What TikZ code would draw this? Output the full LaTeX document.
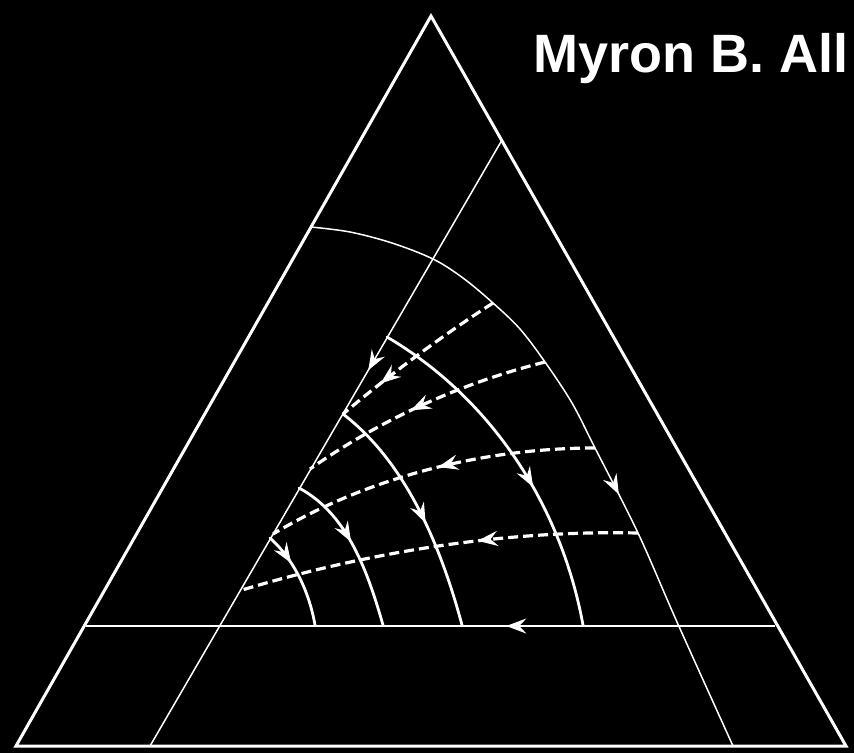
\documentclass[tikz,border=0pt]{standalone}
\usepackage{fontspec}
\setmainfont{Liberation Sans}
\usetikzlibrary{arrows.meta,decorations.markings}
\tikzset{
  outer/.style={white, line width=3pt, line join=miter},
  thinl/.style={white, line width=1.5pt},
  hline/.style={white, line width=2.4pt},
  flow/.style={white, line width=2.8pt, line cap=round},
  dashl/.style={white, line width=3.2pt, dash pattern=on 10pt off 5pt},
  tipat/.style={postaction={decorate}, decoration={markings,
      mark=at position #1 with {\arrow{Stealth[length=20pt,width=15pt,inset=7pt]}}}},
}
\begin{document}
\begin{tikzpicture}[x=1pt, y=-1pt]
  \fill[black] (0,0) rectangle (854,753);
  \useasboundingbox (0,0) rectangle (854,753);

  % outer triangle
  \coordinate (T) at (431,16);
  \coordinate (L) at (16,746);
  \coordinate (R) at (846,746);
  \draw[outer] (T) -- (L) -- (R) -- cycle;

  % title
  \node[anchor=base west, inner sep=0pt, text=white,
        font=\fontsize{54}{60}\selectfont\bfseries] (title) at (533,72) {Myron B. All};

  % horizontal line
  \coordinate (hR) at (775,626);
  \coordinate (hL) at (86,626);
  \draw[hline, tipat=0.39] (hR) -- (hL);

  % thin straight line
  \coordinate (tA) at (502,140);
  \coordinate (tB) at (150,746);
  \draw[thinl, tipat=0.38] (tA) -- (tB);

  % thin arc
  \coordinate (aS) at (311,227);
  \coordinate (aE) at (733,746);
  \draw[thinl, tipat=0.61] plot[smooth, tension=0.55] coordinates {(aS) (350,232) (392,243) (433,259) (463,278) (493,303) (520,329) (545,362) (572,403) (595,448) (638,533) (677,622) (aE)};

  % dashed flow curves
  \coordinate (d1s) at (493,303); \coordinate (d1e) at (343,414);
  \coordinate (d2s) at (545,362); \coordinate (d2e) at (310,469);
  \coordinate (d3s) at (595,448); \coordinate (d3e) at (273,534);
  \coordinate (d4s) at (638,533); \coordinate (d4e) at (242,590);
  \draw[dashl, tipat=0.74] (d1s) .. controls (443,335) and (388,376) .. (d1e);
  \draw[dashl, tipat=0.55] (d2s) .. controls (461.5,382.9) and (380.4,419.7) .. (d2e);
  \draw[dashl, tipat=0.47] (d3s) .. controls (484,448) and (368,477) .. (d3e);
  \draw[dashl, tipat=0.40] (d4s) .. controls (505,530) and (369.4,551.8) .. (d4e);

  % solid flow curves
  \coordinate (As) at (387,337); \coordinate (Ae) at (583,625);
  \coordinate (Bs) at (343,414); \coordinate (Be) at (462,625);
  \coordinate (Cs) at (299,488); \coordinate (Ce) at (383,625);
  \coordinate (Ds) at (270,538); \coordinate (De) at (315,625);
  \draw[flow, tipat=0.59] (As) .. controls (491,398) and (561,505) .. (Ae);
  \draw[flow, tipat=0.56] (Bs) .. controls (406.5,462.7) and (441,547) .. (Be);
  \draw[flow, tipat=0.46] (Cs) .. controls (347.6,513.8) and (367.8,572.1) .. (Ce);
  \draw[flow, tipat=0.33] (Ds) .. controls (294.5,560) and (309.3,592.5) .. (De);
\end{tikzpicture}
\end{document}
